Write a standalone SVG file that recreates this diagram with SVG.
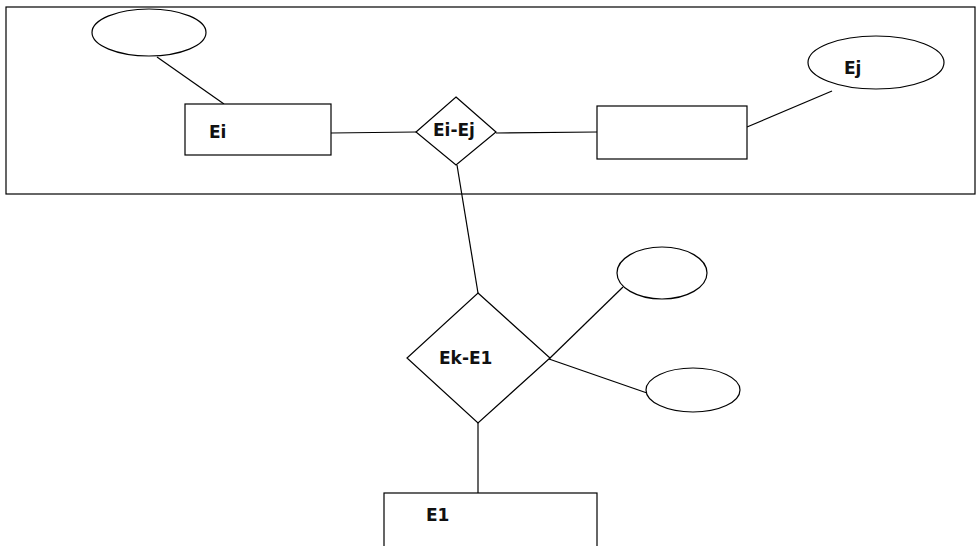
<svg xmlns="http://www.w3.org/2000/svg" width="976" height="546" viewBox="0 0 976 546">
<style>
.s{fill:#fff;stroke:#000;stroke-width:1.2}
.c{stroke:#000;stroke-width:1.2;fill:none}
.t{font-family:"DejaVu Sans",sans-serif;font-weight:bold;font-size:17px;fill:#111}
</style>
<rect width="976" height="546" fill="#fff"/>
<rect id="frame" class="s" x="6" y="7" width="969" height="187"/>
<g id="connectors">
<line class="c" x1="157" y1="57" x2="224" y2="104"/>
<line class="c" x1="331" y1="133" x2="416" y2="132"/>
<line class="c" x1="496" y1="133" x2="597" y2="132"/>
<line class="c" x1="747" y1="127" x2="832" y2="91"/>
<line class="c" x1="457" y1="165" x2="478" y2="293"/>
<line class="c" x1="549" y1="359" x2="623" y2="287"/>
<line class="c" x1="549" y1="359" x2="647" y2="393"/>
<line class="c" x1="478" y1="423" x2="478" y2="493"/>
</g>
<g id="attr-ei"><ellipse class="s" cx="149" cy="32.5" rx="57" ry="23.5"/></g>
<g id="ei"><rect class="s" x="185" y="104" width="146" height="51"/><text class="t" x="209" y="138">Ei</text></g>
<g id="ei-ej"><polygon class="s" points="456,97 496,132 456,165 416,132"/><text class="t" x="433" y="136">Ei-Ej</text></g>
<g id="ej-entity"><rect class="s" x="597" y="106" width="150" height="53"/></g>
<g id="ej"><ellipse class="s" cx="876" cy="62.5" rx="68" ry="26.5"/><text class="t" x="844" y="74">Ej</text></g>
<g id="ek-e1"><polygon class="s" points="478,293 550,358 478,423 407,358"/><text class="t" x="439" y="364">Ek-E1</text></g>
<g id="attr-1"><ellipse class="s" cx="662" cy="273" rx="45" ry="26"/></g>
<g id="attr-2"><ellipse class="s" cx="693" cy="390" rx="47" ry="22"/></g>
<g id="e1"><rect class="s" x="384" y="493" width="213" height="60"/><text class="t" x="426" y="521">E1</text></g>
</svg>
